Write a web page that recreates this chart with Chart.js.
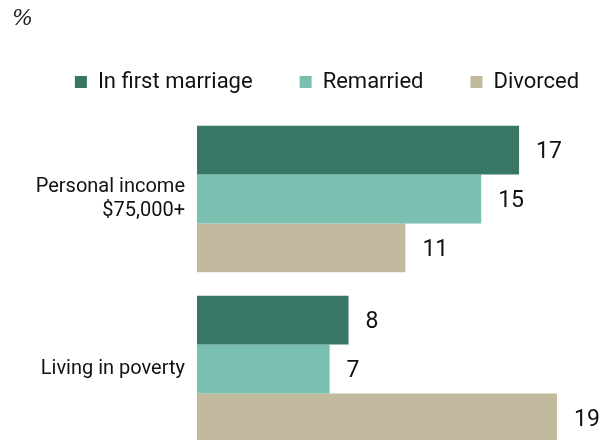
<!DOCTYPE html>
<html>
<head>
<meta charset="utf-8">
<script src="https://cdn.jsdelivr.net/npm/chart.js@4"></script>
<style>
  html, body { margin: 0; padding: 0; background: #fff; overflow: hidden; }
  canvas { display: block; }
</style>
</head>
<body>
<canvas id="chart" width="610" height="454"></canvas>
<script>
const categories = [['Personal income', '$75,000+'], 'Living in poverty'];
const seriesNames = ['In first marriage', 'Remarried', 'Divorced'];
const firstMarriage = [17, 8];
const remarried = [15, 7];
const divorced = [11, 19];
const colors = ['#387766', '#79c0b1', '#c1ba9e'];

const FONT = 'Roboto, "Liberation Sans", sans-serif';

// "%" note at the top left
const unitNote = {
  id: 'unitNote',
  afterDraw(chart) {
    const ctx = chart.ctx;
    ctx.save();
    ctx.font = 'italic 22px "DejaVu Serif", "Liberation Serif", serif';
    ctx.fillStyle = '#222';
    ctx.textAlign = 'left';
    ctx.textBaseline = 'middle';
    ctx.fillText('%', 12, 19);
    ctx.restore();
  }
};

// numbers at the end of each bar
const valueLabels = {
  id: 'valueLabels',
  afterDatasetsDraw(chart) {
    const ctx = chart.ctx;
    ctx.save();
    ctx.font = '23px ' + FONT;
    ctx.fillStyle = '#111';
    ctx.textAlign = 'left';
    ctx.textBaseline = 'middle';
    chart.data.datasets.forEach((ds, i) => {
      chart.getDatasetMeta(i).data.forEach((bar, j) => {
        ctx.fillText(ds.data[j], bar.x + 17, bar.y + 2);
      });
    });
    ctx.restore();
  }
};

const ctx = document.getElementById('chart').getContext('2d');

new Chart(ctx, {
  type: 'bar',
  data: {
    labels: categories,
    datasets: [
      { label: seriesNames[0], data: firstMarriage, backgroundColor: colors[0] },
      { label: seriesNames[1], data: remarried, backgroundColor: colors[1] },
      { label: seriesNames[2], data: divorced, backgroundColor: colors[2] }
    ]
  },
  options: {
    indexAxis: 'y',
    responsive: false,
    animation: false,
    datasets: {
      bar: { barPercentage: 1, categoryPercentage: 0.862 }
    },
    layout: { padding: { top: 24, left: 22, right: -22, bottom: 0 } },
    plugins: {
      title: { display: false },
      tooltip: { enabled: false },
      legend: {
        position: 'top',
        labels: {
          boxWidth: 12,
          boxHeight: 12,
          padding: 47,
          color: '#111',
          font: { family: FONT, size: 22 }
        }
      }
    },
    scales: {
      x: {
        position: 'top',
        min: 0,
        max: 21.8,
        grid: { display: false, drawTicks: false },
        border: { display: false },
        ticks: { display: false },
        afterFit(scale) { scale.height = 11; }
      },
      y: {
        grid: { display: false, drawTicks: false },
        border: { display: false },
        ticks: {
          padding: 12,
          color: '#111',
          font: { family: FONT, size: 20, lineHeight: 1.2 }
        },
        afterFit(scale) {
          scale.width = 175;
          // no extra room for the tick labels above/below the bars
          scale.paddingTop = 0;
          scale.paddingBottom = 0;
        }
      }
    }
  },
  plugins: [unitNote, valueLabels]
});
</script>
</body>
</html>
